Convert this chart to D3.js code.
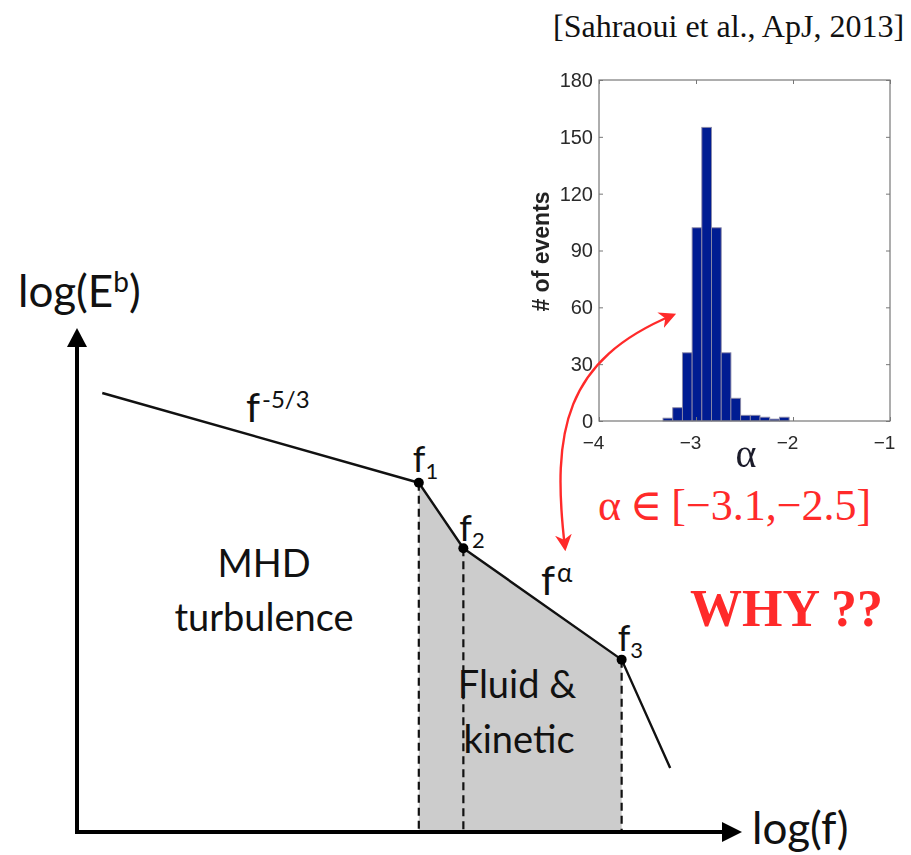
<!DOCTYPE html>
<html>
<head>
<meta charset="utf-8">
<script src="https://cdn.jsdelivr.net/npm/d3@7"></script>
<style>
  html, body { margin: 0; padding: 0; background: #fff; }
  svg { display: block; }
</style>
</head>
<body>
<svg id="chart" width="911" height="855"></svg>
<script>
// Schematic magnetic energy spectrum: break points in arbitrary log units (0–100)
const spectrumLogF = [3.8, 51.4, 58.1, 81.9, 89.2];
const spectrumLogE = [87.1, 69.3, 56.3, 34.2, 12.7];
const breakNames = ["f1", "f2", "f3"];
const breakIndex = [1, 2, 3];

// Histogram of spectral index alpha (number of events per bin)
const alphaCenters = [-3.29, -3.19, -3.09, -2.99, -2.89, -2.79, -2.69, -2.59, -2.49, -2.39, -2.29, -2.19, -2.09];
const alphaCounts  = [1.5, 7, 36, 102, 155, 102, 36, 12, 3, 3, 2, 1, 2];
const alphaBinWidth = 0.1;
const histXTicks = [-4, -3, -2, -1];
const histYTicks = [0, 30, 60, 90, 120, 150, 180];

const svg = d3.select("#chart");
const sans = "Lato, 'Open Sans', sans-serif";
const serif = "'Liberation Serif', 'DejaVu Serif', serif";
const defs = svg.append("defs");

// ---------- main spectrum diagram ----------
const x = d3.scaleLinear().domain([0, 100]).range([77, 742]);
const y = d3.scaleLinear().domain([0, 100]).range([832, 328]);
const pts = spectrumLogF.map((f, i) => [f, spectrumLogE[i]]);

// shaded "fluid & kinetic" range between f1 and f3
const shaded = pts.slice(1, 4);
const area = d3.area().x(d => x(d[0])).y0(y(0)).y1(d => y(d[1]));
svg.append("path").datum(shaded).attr("d", area).attr("fill", "#cccccc");

// dashed drop lines at the break frequencies
svg.selectAll("line.drop").data(breakIndex).join("line")
  .attr("class", "drop")
  .attr("x1", i => x(pts[i][0])).attr("x2", i => x(pts[i][0]))
  .attr("y1", i => y(pts[i][1])).attr("y2", y(0))
  .attr("stroke", "#111").attr("stroke-width", 2.2)
  .attr("stroke-dasharray", "8,5");

// spectrum line
svg.append("path").datum(pts)
  .attr("d", d3.line().x(d => x(d[0])).y(d => y(d[1])))
  .attr("fill", "none").attr("stroke", "#111").attr("stroke-width", 2.4)
  .attr("stroke-linejoin", "round");

// break points
svg.selectAll("circle.brk").data(breakIndex).join("circle")
  .attr("class", "brk")
  .attr("cx", i => x(pts[i][0])).attr("cy", i => y(pts[i][1]))
  .attr("r", 5).attr("fill", "#000");

// axes with arrowheads
svg.append("line").attr("x1", x(0)).attr("y1", y(0)).attr("x2", x(0)).attr("y2", y(100) + 14)
  .attr("stroke", "#000").attr("stroke-width", 4);
svg.append("line").attr("x1", x(0) - 2).attr("y1", y(0)).attr("x2", x(100) - 14).attr("y2", y(0))
  .attr("stroke", "#000").attr("stroke-width", 4);
svg.append("path")
  .attr("d", `M${x(0)},${y(100)} L${x(0) - 10},${y(100) + 19} L${x(0) + 10},${y(100) + 19} Z`)
  .attr("fill", "#000");
svg.append("path")
  .attr("d", `M${x(100)},${y(0)} L${x(100) - 20},${y(0) - 10} L${x(100) - 20},${y(0) + 10} Z`)
  .attr("fill", "#000");

// axis titles
const yTitle = svg.append("text").attr("x", 18).attr("y", 307)
  .attr("font-family", sans).attr("font-size", 44).attr("fill", "#111");
yTitle.append("tspan").text("log(E");
yTitle.append("tspan").attr("font-size", 28).attr("dy", -15).text("b");
yTitle.append("tspan").attr("dy", 15).text(")");

svg.append("text").attr("x", 752).attr("y", 844)
  .attr("font-family", sans).attr("font-size", 44).attr("fill", "#111").text("log(f)");

// break labels f1, f2, f3
const labelOffsets = [[-6, -11], [-4, -7], [-4, -9]];
breakIndex.forEach((i, k) => {
  const t = svg.append("text")
    .attr("x", x(pts[i][0]) + labelOffsets[k][0])
    .attr("y", y(pts[i][1]) + labelOffsets[k][1])
    .attr("font-family", sans).attr("font-size", 36).attr("fill", "#111");
  t.append("tspan").text("f");
  t.append("tspan").attr("font-size", 22).attr("dy", 7).text(breakNames[k].slice(1));
});

// power-law labels
const kol = svg.append("text").attr("x", 246).attr("y", 422)
  .attr("font-family", sans).attr("font-size", 40).attr("fill", "#111");
kol.append("tspan").text("f");
kol.append("tspan").attr("font-size", 24).attr("dy", -14).attr("dx", 2).text("-5/3");

const fa = svg.append("text").attr("x", 541).attr("y", 595)
  .attr("font-family", sans).attr("font-size", 40).attr("fill", "#111");
fa.append("tspan").text("f");
fa.append("tspan").attr("font-size", 26).attr("dy", -13).attr("dx", 2).text("α");

// region labels
svg.append("text").attr("x", 264).attr("y", 577).attr("text-anchor", "middle")
  .attr("font-family", sans).attr("font-size", 38).attr("fill", "#111").text("MHD");
svg.append("text").attr("x", 264).attr("y", 631).attr("text-anchor", "middle")
  .attr("font-family", sans).attr("font-size", 38).attr("fill", "#111").text("turbulence");
svg.append("text").attr("x", 517).attr("y", 698).attr("text-anchor", "middle")
  .attr("font-family", sans).attr("font-size", 38).attr("fill", "#111").text("Fluid &");
svg.append("text").attr("x", 519).attr("y", 753).attr("text-anchor", "middle")
  .attr("font-family", sans).attr("font-size", 38).attr("fill", "#111").text("kinetic");

// ---------- inset histogram ----------
const hx = d3.scaleLinear().domain([-4, -1]).range([599, 890]);
const hy = d3.scaleLinear().domain([0, 180]).range([421, 80]);

defs.append("filter").attr("id", "soft")
  .append("feGaussianBlur").attr("stdDeviation", 0.45);
const hist = svg.append("g").attr("filter", "url(#soft)");

hist.selectAll("rect.bar").data(alphaCenters).join("rect")
  .attr("class", "bar")
  .attr("x", (c) => hx(c - alphaBinWidth / 2))
  .attr("width", hx(alphaBinWidth) - hx(0))
  .attr("y", (c, i) => hy(alphaCounts[i]))
  .attr("height", (c, i) => hy(0) - hy(alphaCounts[i]))
  .attr("fill", "#061a92").attr("stroke", "#8c8ca8").attr("stroke-width", 0.9);

// box with inward ticks on all sides
hist.append("rect").attr("x", hx(-4)).attr("y", hy(180))
  .attr("width", hx(-1) - hx(-4)).attr("height", hy(0) - hy(180))
  .attr("fill", "none").attr("stroke", "#777").attr("stroke-width", 1.2);

const axL = d3.axisLeft(hy).tickValues(histYTicks).tickSizeInner(-4).tickSizeOuter(0).tickPadding(6);
const axR = d3.axisRight(hy).tickValues(histYTicks).tickSizeInner(-4).tickSizeOuter(0).tickFormat("");
const axB = d3.axisBottom(hx).tickValues(histXTicks).tickSizeInner(-4).tickSizeOuter(0).tickPadding(15)
  .tickFormat(d => d3.format("")(d).replace("-", "\u2212"));
const axT = d3.axisTop(hx).tickValues(histXTicks).tickSizeInner(-4).tickSizeOuter(0).tickFormat("");

const gL = hist.append("g").attr("transform", `translate(${hx(-4)},0)`).call(axL);
const gR = hist.append("g").attr("transform", `translate(${hx(-1)},0)`).call(axR);
const gB = hist.append("g").attr("transform", `translate(0,${hy(0)})`).call(axB);
const gT = hist.append("g").attr("transform", `translate(0,${hy(180)})`).call(axT);
[gL, gR, gB, gT].forEach(g => {
  g.select(".domain").remove();
  g.selectAll(".tick line").attr("stroke", "#777");
  g.selectAll(".tick text").attr("font-family", "'Liberation Sans', Arial, sans-serif")
    .attr("font-size", 20).attr("fill", "#2a2a2a");
});
gB.selectAll(".tick text").attr("dx", -6).attr("font-size", 19);

hist.append("text")
  .attr("transform", `translate(549,${(hy(0) + hy(180)) / 2 + 1}) rotate(-90)`)
  .attr("text-anchor", "middle")
  .attr("font-family", "'Liberation Sans', Arial, sans-serif").attr("font-weight", "bold")
  .attr("font-size", 23).attr("fill", "#222").text("# of events");

hist.append("text").attr("x", 746).attr("y", 467).attr("text-anchor", "middle")
  .attr("font-family", serif).attr("font-size", 40).attr("fill", "#1a1a2a").text("α");

// citation
svg.append("text").attr("x", 553).attr("y", 37)
  .attr("font-family", serif).attr("font-size", 32).attr("fill", "#111")
  .text("[Sahraoui et al., ApJ, 2013]");

// ---------- red annotations ----------
const red = "#ff2a2a";
defs.append("marker").attr("id", "arrowRed")
  .attr("viewBox", "0 0 10 10").attr("refX", 8).attr("refY", 5)
  .attr("markerWidth", 7).attr("markerHeight", 7).attr("orient", "auto-start-reverse")
  .append("path").attr("d", "M0,0 L10,5 L0,10 L3,5 Z").attr("fill", red);

svg.append("path")
  .attr("d", "M565,548 C551,430 565,360 673,315")
  .attr("fill", "none").attr("stroke", red).attr("stroke-width", 2.4)
  .attr("marker-start", "url(#arrowRed)").attr("marker-end", "url(#arrowRed)");

svg.append("text").attr("x", 598).attr("y", 520)
  .attr("font-family", serif).attr("font-size", 44).attr("fill", red)
  .text("α\u2009∈\u2009[−3.1,−2.5]");

svg.append("text").attr("x", 690).attr("y", 626)
  .attr("font-family", serif).attr("font-weight", "bold").attr("font-size", 52).attr("fill", red)
  .text("WHY ??");
</script>
</body>
</html>
